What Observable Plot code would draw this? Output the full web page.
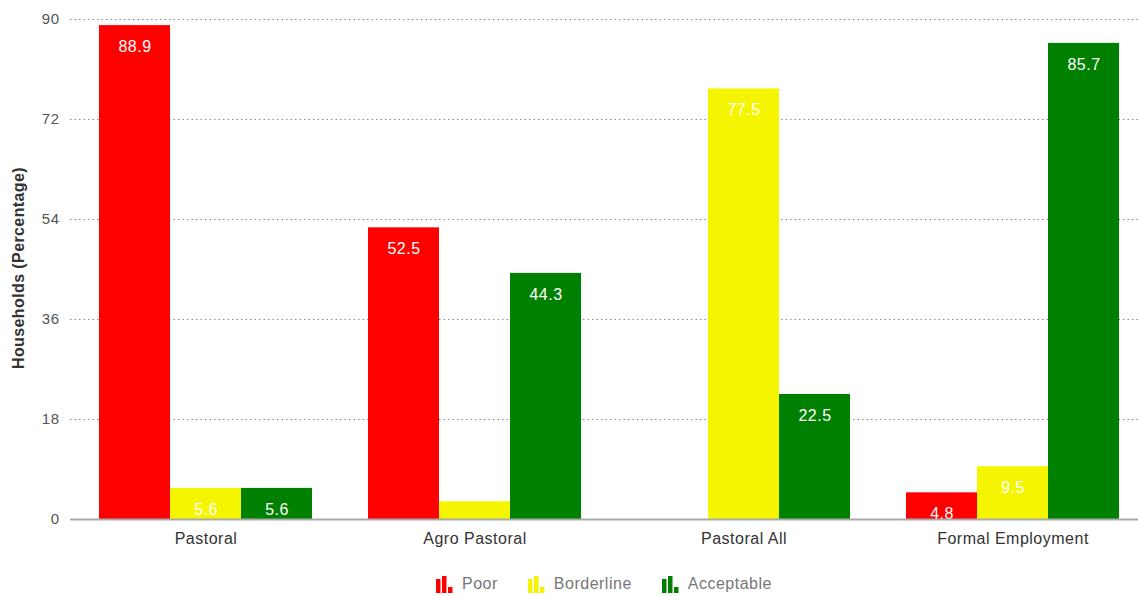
<!DOCTYPE html>
<html>
<head>
<meta charset="utf-8">
<script src="https://cdn.jsdelivr.net/npm/d3@7"></script>
<script src="https://cdn.jsdelivr.net/npm/@observablehq/plot@0.6"></script>
<style>
  html, body { margin: 0; padding: 0; background: #fff; }
  #wrap { position: relative; width: 1138px; height: 596px; overflow: hidden; font-family: "Liberation Sans", Arial, sans-serif; }
  .layer { position: absolute; left: 0; top: 0; }
  .layer svg { max-width: none !important; }
  #ylabel { position: absolute; left: 19px; top: 268px; transform: translate(-50%, -50%) rotate(-90deg); white-space: nowrap; font-weight: bold; font-size: 16px; letter-spacing: 0.4px; color: #333; }
  #legend { position: absolute; left: 0; top: 566px; width: 1208px; height: 36px; display: flex; justify-content: center; align-items: center; gap: 30px; font-size: 16px; letter-spacing: 0.5px; color: #777; }
  .item { display: flex; align-items: center; gap: 9px; }
  .layer svg text { letter-spacing: 0.5px; }
</style>
</head>
<body>
<div id="wrap">
  <div id="grid" class="layer"></div>
  <div id="bars" class="layer"></div>
  <div id="base" class="layer"></div>
  <div id="ylabel">Households (Percentage)</div>
  <div id="legend"></div>
</div>
<script>
// Food consumption groups by livelihood
const groups = ["Pastoral", "Agro Pastoral", "Pastoral All", "Formal Employment"];
const seriesNames = ["Poor", "Borderline", "Acceptable"];
const colors = ["#ff0000", "#f5f500", "#008000"];
const poor = [88.9, 52.5, 0, 4.8];
const borderline = [5.6, 3.2, 77.5, 9.5];
const acceptable = [5.6, 44.3, 22.5, 85.7];
const yTicks = [0, 18, 36, 54, 72, 90];

const seriesValues = [poor, borderline, acceptable];
const rows = [];
groups.forEach((g, i) => {
  seriesNames.forEach((s, j) => rows.push({group: g, series: s, value: seriesValues[j][i]}));
});

// shared frame so the three layers line up
const frame = {
  width: 1148,
  height: 560,
  marginLeft: 70,
  marginRight: 0,
  marginTop: 19,
  marginBottom: 41,
  style: {fontFamily: "'Liberation Sans', Arial, sans-serif", fontSize: "16px", color: "#333", background: "transparent"}
};

// background: y axis and dotted gridlines across the full width
const gridPlot = Plot.plot({
  ...frame,
  style: {...frame.style, fontSize: "15px"},
  y: {domain: [0, 90], ticks: yTicks, label: null, tickSize: 0, tickPadding: 11, tickFormat: d => d},
  marks: [
    Plot.ruleY(yTicks.filter(d => d > 0), {stroke: "#888", strokeDasharray: "1.5,3"})
  ]
});
d3.select(gridPlot).selectAll("[aria-label='y-axis tick label'] text, [aria-label='y-axis tick label']").attr("fill", "#555");
document.getElementById("grid").appendChild(gridPlot);

// grouped bars, faceted by livelihood
const barPlot = Plot.plot({
  ...frame,
  fx: {domain: groups, paddingInner: 0.2, paddingOuter: 0.1, label: null, tickSize: 0, tickPadding: 13, axis: "bottom"},
  x: {domain: seriesNames, axis: null, padding: 0},
  y: {domain: [0, 90], axis: null},
  color: {domain: seriesNames, range: colors},
  marks: [
    Plot.barY(rows, {fx: "group", x: "series", y: "value", fill: "series"}),
    Plot.text(rows.filter(d => d.value >= 4), {fx: "group", x: "series", y: "value", text: d => d.value.toFixed(1), dy: 21, fill: "white", fontSize: 16})
  ]
});
document.getElementById("bars").appendChild(barPlot);

// baseline drawn over the bars
const basePlot = Plot.plot({
  ...frame,
  y: {domain: [0, 90], axis: null},
  marks: [Plot.ruleY([0], {stroke: "#aaa", strokeWidth: 2})]
});
document.getElementById("base").appendChild(basePlot);

// Legend with small bar-chart glyphs
const legend = d3.select("#legend");
seriesNames.forEach((s, i) => {
  const item = legend.append("div").attr("class", "item");
  const svg = item.append("svg").attr("width", 17).attr("height", 18);
  [[0, 14], [6, 17], [12, 6]].forEach(([x, h]) => {
    svg.append("rect").attr("x", x).attr("y", 18 - h).attr("width", 4.5).attr("height", h).attr("fill", colors[i]);
  });
  item.append("span").text(s);
});
</script>
</body>
</html>
